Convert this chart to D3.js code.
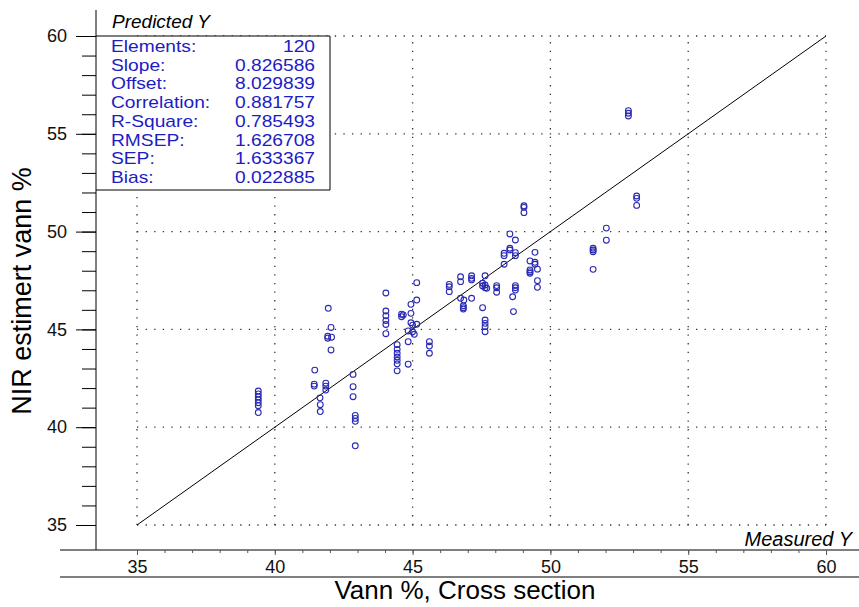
<!DOCTYPE html>
<html>
<head>
<meta charset="utf-8">
<script src="https://cdn.jsdelivr.net/npm/d3@7/dist/d3.min.js"></script>
<style>
  html, body { margin: 0; padding: 0; background: #fff; }
  svg { display: block; font-family: Arial, "Liberation Sans", sans-serif; }
</style>
</head>
<body>
<svg id="chart" width="859" height="607"></svg>
<script>
// ---- data ----
const measured = [
  39.4, 39.4, 39.4, 39.4, 39.4, 39.4, 39.4,
  41.45, 41.43, 41.43, 41.85, 41.85, 41.85, 41.64, 41.65, 41.65, 41.94, 42.04, 41.92, 41.92, 42.06, 42.04,
  42.84, 42.84, 42.84, 42.92, 42.92, 42.92, 42.92,
  44.03, 44.03, 44.03, 44.03, 44.03, 44.03,
  44.44, 44.44, 44.44, 44.44, 44.44, 44.44, 44.44,
  44.6, 44.6, 44.66, 44.94, 44.94, 44.94, 45.0, 45.15, 44.84, 45.0, 45.06, 44.84, 44.84, 45.15, 45.15,
  45.61, 45.61, 45.61,
  46.33, 46.33, 46.33, 46.74, 46.74, 47.14, 47.14, 47.14, 46.74, 46.86, 47.14, 46.84, 46.84, 46.84,
  47.54, 47.54, 47.63, 47.63, 47.69, 47.63, 48.05, 48.05, 48.05, 47.54, 47.63, 47.63, 47.63, 47.63,
  48.53, 48.73, 48.53, 48.53, 48.32, 48.32, 48.73, 48.73, 48.32, 49.44, 49.26, 49.44, 49.44,
  49.26, 49.26, 49.26, 49.53, 49.53, 49.53, 48.73, 48.73, 48.73, 48.63, 48.66,
  49.04, 49.04, 49.04,
  51.55, 51.55, 51.55, 51.55, 52.03, 52.03, 52.83, 52.83, 52.83, 53.13, 53.13, 53.13
];
const predicted = [
  41.85, 41.7, 41.55, 41.4, 41.25, 41.1, 40.75,
  42.92, 42.2, 42.1, 42.25, 42.1, 41.9, 41.5, 41.15, 40.8, 46.08, 45.1, 44.65, 44.55, 44.6, 43.95,
  42.7, 42.07, 41.56, 40.6, 40.45, 40.3, 39.05,
  46.86, 45.94, 45.7, 45.45, 45.25, 44.78,
  44.22, 43.98, 43.78, 43.59, 43.42, 43.24, 42.88,
  45.78, 45.65, 45.74, 46.28, 45.82, 45.34, 45.22, 45.26, 44.92, 44.88, 44.75, 44.37, 43.22, 47.39, 46.5,
  44.37, 44.15, 43.78,
  47.3, 47.18, 46.93, 47.69, 47.44, 47.74, 47.61, 47.53, 46.59, 46.5, 46.59, 46.21, 46.11, 46.04,
  47.36, 47.22, 47.27, 47.13, 47.1, 47.74, 47.24, 47.13, 46.9, 46.11, 45.48, 45.31, 45.14, 44.88,
  49.88, 49.57, 49.15, 49.06, 48.89, 48.77, 48.92, 48.77, 48.33, 48.94, 48.5, 48.43, 48.33,
  48.04, 47.95, 47.87, 48.08, 47.49, 47.15, 47.24, 47.13, 47.01, 46.67, 45.91,
  51.32, 51.24, 50.97,
  49.15, 49.06, 48.97, 48.07, 50.18, 49.56, 56.18, 56.05, 55.91, 51.82, 51.7, 51.34
];
const statLabels = ["Elements:", "Slope:", "Offset:", "Correlation:", "R-Square:", "RMSEP:", "SEP:", "Bias:"];
const statValues = ["120", "0.826586", "8.029839", "0.881757", "0.785493", "1.626708", "1.633367", "0.022885"];
const majorTicks = [35, 40, 45, 50, 55, 60];
const minorTicks = d3.range(35, 61, 1);
const axisDomain = [35, 60];
const refLine = [35, 60];

// ---- layout ----
const svg = d3.select("#chart");
const x = d3.scaleLinear().domain(axisDomain).range([137, 826]);
const y = d3.scaleLinear().domain(axisDomain).range([525, 36]);
const axisX = 96, axisBottom = 550, lowerLine = 577;

// grid (dotted)
const grid = svg.append("g").attr("stroke", "#333").attr("stroke-width", 1.3)
  .attr("stroke-dasharray", "1.3,7.3");
grid.selectAll("line.v").data(majorTicks).join("line").attr("class", "v")
  .attr("x1", d => x(d)).attr("x2", d => x(d)).attr("y1", y(35)).attr("y2", y(60));
grid.selectAll("line.h").data(majorTicks).join("line").attr("class", "h")
  .attr("y1", d => y(d)).attr("y2", d => y(d)).attr("x1", x(35)).attr("x2", x(60));

// reference line y = x
svg.append("line")
  .attr("x1", x(refLine[0])).attr("y1", y(refLine[0]))
  .attr("x2", x(refLine[1])).attr("y2", y(refLine[1]))
  .attr("stroke", "#000").attr("stroke-width", 1);

// points
svg.append("g").selectAll("circle").data(measured.map((m, i) => [m, predicted[i]])).join("circle")
  .attr("cx", d => x(d[0])).attr("cy", d => y(d[1])).attr("r", 2.9)
  .attr("fill", "none").attr("stroke", "#2a2ab4").attr("stroke-width", 1.1);

// stats box
svg.append("rect").attr("x", axisX).attr("y", y(60)).attr("width", 234).attr("height", 154)
  .attr("fill", "#fff").attr("stroke", "none");
svg.append("path")
  .attr("d", `M${axisX},${y(60)} H330 V190 H${axisX}`)
  .attr("fill", "none").attr("stroke", "#000").attr("stroke-width", 1);
const st = svg.append("g").attr("font-size", 16).attr("fill", "#1c1cc4");
st.selectAll("text.l").data(statLabels).join("text").attr("class", "l")
  .attr("transform", (d, i) => `translate(111,${52 + i * 18.7}) scale(1.2,1)`).text(d => d);
st.selectAll("text.v").data(statValues).join("text").attr("class", "v")
  .attr("transform", (d, i) => `translate(315,${52 + i * 18.7}) scale(1.2,1)`)
  .attr("text-anchor", "end").text(d => d);
svg.append("text").attr("x", 112).attr("y", 28).attr("font-size", 19).attr("font-style", "italic")
  .attr("fill", "#000").text("Predicted Y");

// left axis
svg.append("line").attr("x1", axisX).attr("x2", axisX).attr("y1", 10).attr("y2", axisBottom)
  .attr("stroke", "#000");
const yAxis = d3.axisLeft(y).tickValues(minorTicks).tickSize(14).tickFormat("");
svg.append("g").attr("transform", `translate(${axisX},0)`).call(yAxis)
  .call(g => g.select(".domain").remove())
  .call(g => g.selectAll("line").attr("stroke", "#000"));
const yAxisMajor = d3.axisLeft(y).tickValues(majorTicks).tickSize(20).tickPadding(9)
  .tickFormat(d3.format("d"));
svg.append("g").attr("transform", `translate(${axisX},0)`).call(yAxisMajor)
  .call(g => g.select(".domain").remove())
  .call(g => g.selectAll("line").attr("stroke", "#000"))
  .call(g => g.selectAll("text").attr("font-size", 18).attr("fill", "#111").attr("font-family", "Arial, sans-serif"));

// bottom axis
svg.append("line").attr("x1", 60).attr("x2", 859).attr("y1", axisBottom).attr("y2", axisBottom)
  .attr("stroke", "#000");
svg.append("line").attr("x1", 60).attr("x2", 859).attr("y1", lowerLine).attr("y2", lowerLine)
  .attr("stroke", "#000");
const xAxisMinor = d3.axisBottom(x).tickValues(minorTicks).tickSize(3).tickFormat("");
svg.append("g").attr("transform", `translate(0,${axisBottom})`).call(xAxisMinor)
  .call(g => g.select(".domain").remove())
  .call(g => g.selectAll("line").attr("stroke", "#555"));
const xAxisMajor = d3.axisBottom(x).tickValues(majorTicks).tickSize(5).tickPadding(5)
  .tickFormat(d3.format("d"));
svg.append("g").attr("transform", `translate(0,${axisBottom})`).call(xAxisMajor)
  .call(g => g.select(".domain").remove())
  .call(g => g.selectAll("line").attr("stroke", "#555"))
  .call(g => g.selectAll("text").attr("font-size", 18).attr("fill", "#111").attr("font-family", "Arial, sans-serif"));

svg.append("text").attr("x", 852).attr("y", 546).attr("text-anchor", "end")
  .attr("font-size", 20).attr("font-style", "italic").attr("fill", "#000").text("Measured Y");

// axis titles
svg.append("text").attr("x", 465).attr("y", 599).attr("text-anchor", "middle")
  .attr("font-size", 26).attr("fill", "#000").text("Vann %, Cross section");
svg.append("text").attr("transform", "translate(31,291) rotate(-90)").attr("text-anchor", "middle")
  .attr("font-size", 27).attr("fill", "#000").text("NIR estimert vann %");
</script>
</body>
</html>
